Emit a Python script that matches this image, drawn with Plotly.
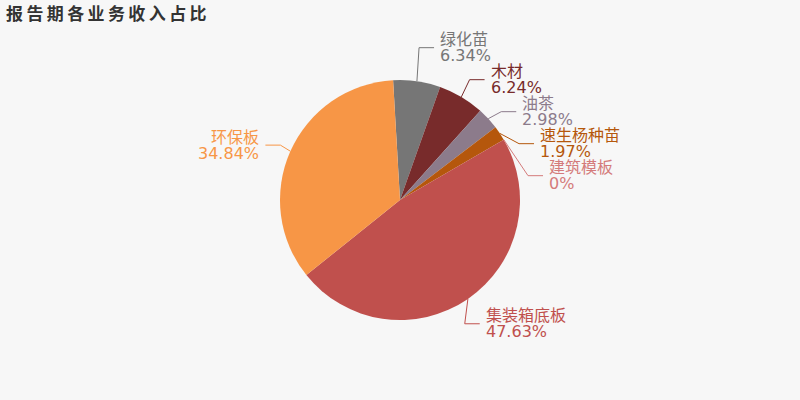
import math
import plotly.graph_objects as go

# ---------------- data ----------------
title = "报告期各业务收入占比"
categories = ["绿化苗", "木材", "油茶", "速生杨种苗", "建筑模板", "集装箱底板", "环保板"]
shares = [6.34, 6.24, 2.98, 1.97, 0, 47.63, 34.84]
pct_labels = ["6.34%", "6.24%", "2.98%", "1.97%", "0%", "47.63%", "34.84%"]
colors = ["#767676", "#782b2b", "#8c7b8b", "#b5570c", "#d47b7b", "#c0504d", "#f79646"]

# ---------------- layout constants ----------------
W, H = 800, 400
CX, CY, R = 400, 200, 120
ROT = -3.3          # start angle of first slice (deg, clockwise from 12 o'clock)
LEN1, LEN2 = 15, 15  # leader line segment lengths
LABEL_DIST = 5
LABEL_H = 32
FONT = "DejaVu Sans, Noto Sans CJK SC"
BG = "#f7f7f7"

total = sum(shares)

# natural label positions (derived from slice angles)
items = []
acc = 0.0
for i, v in enumerate(shares):
    a0 = ROT + acc / total * 360
    acc += v
    a1 = ROT + acc / total * 360
    mid = math.radians((a0 + a1) / 2)
    dx, dy = math.sin(mid), -math.cos(mid)
    x1, y1 = CX + R * dx, CY + R * dy
    x2, y2 = x1 + dx * LEN1, y1 + dy * LEN1
    x3 = x2 + (-1 if dx < 0 else 1) * LEN2
    tx = x3 + (-LABEL_DIST if dx < 0 else LABEL_DIST)
    items.append(dict(i=i, x=tx, y=y2, h=LABEL_H, p1=(x1, y1),
                      dist=x2 - x3))


def adjust_side(lst, direction):
    lst.sort(key=lambda it: it["y"])
    n = len(lst)

    def shift_up(end, delta):
        j = end
        while j >= 0:
            if lst[j]["y"] - delta < 0:
                break
            lst[j]["y"] -= delta
            if j > 0 and lst[j]["y"] > lst[j - 1]["y"] + lst[j - 1]["h"]:
                break
            j -= 1

    def shift_down(start, end, delta):
        for j in range(start, end):
            if lst[j]["y"] + delta > H:
                break
            lst[j]["y"] += delta
            if j > start and j + 1 < end and lst[j + 1]["y"] > lst[j]["y"] + lst[j]["h"]:
                shift_up(j, delta / 2)
                return
        shift_up(end - 1, delta / 2)

    last_y = 0
    for k in range(n):
        delta = lst[k]["y"] - last_y
        if delta < 0:
            shift_down(k, n, -delta)
        last_y = lst[k]["y"] + lst[k]["h"]
    if H - last_y < 0:
        shift_up(n - 1, last_y - H)

    up = [it for it in lst if it["y"] < CY]
    down = [it for it in lst if it["y"] >= CY]

    def change_x(sub, is_down):
        last_dx = float("inf") if is_down else 0
        for it in sub:
            dyy = abs(it["y"] - CY)
            if dyy < R + LEN1:
                ddx = math.sqrt((R + LEN1 + LEN2) ** 2 - dyy ** 2)
            else:
                ddx = abs(it["x"] - CX)
            if is_down and ddx >= last_dx:
                ddx = last_dx - 10
            if not is_down and ddx <= last_dx:
                ddx = last_dx + 10
            it["x"] = CX + ddx * direction
            last_dx = ddx

    change_x(up, False)
    change_x(down, True)


left = [it for it in items if it["x"] < CX]
right = [it for it in items if it["x"] >= CX]
adjust_side(left, -1)
adjust_side(right, 1)


def px(x):
    return x / W


def py(y):
    return 1 - y / H


fig = go.Figure()
fig.add_trace(go.Pie(
    values=shares, labels=categories, sort=False, direction="clockwise",
    rotation=ROT, textinfo="none", showlegend=False,
    marker=dict(colors=colors, line=dict(width=0)),
    domain=dict(x=[(CX - R) / W, (CX + R) / W], y=[1 - (CY + R) / H, 1 - (CY - R) / H]),
    hoverinfo="label+percent",
))

shapes = []
annotations = []
for it in items:
    i = it["i"]
    is_left = it["x"] < CX
    p3x = it["x"] + LABEL_DIST if is_left else it["x"] - LABEL_DIST
    p2x = p3x + it["dist"]
    y = it["y"]
    x1, y1 = it["p1"]
    path = f"M {px(x1)},{py(y1)} L {px(p2x)},{py(y)} L {px(p3x)},{py(y)}"
    shapes.append(dict(type="path", xref="paper", yref="paper", path=path,
                       line=dict(color=colors[i], width=1), layer="above"))
    anchor = "right" if is_left else "left"
    for txt, off in ((categories[i], -8), (pct_labels[i], 8)):
        annotations.append(dict(
            text=txt, xref="paper", yref="paper", x=px(it["x"]), y=py(y + off),
            xanchor=anchor, yanchor="middle", showarrow=False, borderpad=0,
            font=dict(family=FONT, size=16, color=colors[i])))

annotations.append(dict(
    text="<b>" + "\u2009".join(title) + "</b>", xref="paper", yref="paper",
    x=px(5), y=py(14), xanchor="left", yanchor="middle", showarrow=False,
    borderpad=0, font=dict(family="DejaVu Sans, Noto Sans CJK SC", size=17, color="#333333")))

fig.update_layout(
    width=W, height=H, margin=dict(l=0, r=0, t=0, b=0),
    paper_bgcolor=BG, plot_bgcolor=BG,
    shapes=shapes, annotations=annotations,
)

fig.write_html(
    "out.html",
    config={"displayModeBar": False},
    post_script="document.body.style.margin='0';document.body.style.overflow='hidden';"
                "document.body.style.background='" + BG + "';",
)
